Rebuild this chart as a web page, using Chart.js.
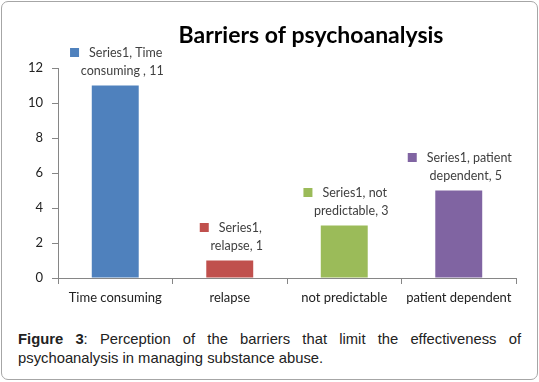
<!DOCTYPE html>
<html>
<head>
<meta charset="utf-8">
<script src="https://cdn.jsdelivr.net/npm/chart.js@4"></script>
<style>
  html, body { margin: 0; padding: 0; background: #fff; }
  #frame { position: absolute; left: 1px; top: 1px; width: 535px; height: 377px; border: 1px solid #a6a6a6; border-radius: 7px; box-sizing: content-box; }
  #wrap { position: absolute; left: 0; top: 0; width: 539px; height: 315px; }
  #caption { position: absolute; left: 18px; top: 330px; width: 503px; font-family: "Liberation Sans", Arial, sans-serif; font-size: 14.8px; line-height: 19px; color: #222; text-align: justify; text-align-last: left; }
</style>
</head>
<body>
<div id="frame"></div>
<div id="wrap"><canvas id="c"></canvas></div>
<div id="caption"><b>Figure 3</b>: Perception of the barriers that limit the effectiveness of psychoanalysis in managing substance abuse.</div>
<script>
const chartTitle = "Barriers of psychoanalysis";
const categories = ["Time consuming", "relapse", "not predictable", "patient dependent"];
const values = [11, 1, 3, 5];
const barColors = ["#4F81BD", "#C0504D", "#9BBB59", "#8064A2"];
const labelLine1 = ["Series1, Time", "Series1,", "Series1, not", "Series1, patient"];
const labelLine2 = ["consuming , 11", "relapse, 1", "predictable, 3", "dependent, 5"];
const yTicks = [0, 2, 4, 6, 8, 10, 12];

const labelFont = '12.5px Lato, "Open Sans", sans-serif';

const labelPlugin = {
  id: 'barLabels',
  afterDatasetsDraw(chart) {
    const ctx = chart.ctx;
    const meta = chart.getDatasetMeta(0);
    ctx.save();
    ctx.font = labelFont;
    ctx.fillStyle = '#404040';
    ctx.textBaseline = 'middle';
    meta.data.forEach((bar, i) => {
      const cx = bar.x;
      const top = bar.y;
      const y2 = top - 15;
      const y1 = y2 - 18;
      ctx.textAlign = 'center';
      ctx.fillText(labelLine2[i], cx + 7, y2);
      const w = ctx.measureText(labelLine1[i]).width;
      const key = 9, gap = 10;
      const total = key + gap + w;
      const start = cx + 1 - total / 2;
      ctx.fillStyle = barColors[i];
      ctx.fillRect(start, y1 - 4.5, key, key);
      ctx.fillStyle = '#404040';
      ctx.textAlign = 'left';
      ctx.fillText(labelLine1[i], start + key + gap, y1);
    });
    ctx.font = 'bold 23px Lato, "Open Sans", sans-serif';
    ctx.fillStyle = '#000';
    ctx.textAlign = 'center';
    ctx.fillText(chartTitle, 311, 36);
    ctx.restore();
  }
};

new Chart(document.getElementById('c'), {
  type: 'bar',
  data: {
    labels: categories,
    datasets: [{
      data: values,
      backgroundColor: barColors,
      borderWidth: 0,
      barPercentage: 0.41,
      categoryPercentage: 1.0
    }]
  },
  options: {
    responsive: true,
    maintainAspectRatio: false,
    animation: false,
    layout: { padding: { top: 68, right: 23, left: 0, bottom: 0 } },
    plugins: { legend: { display: false }, tooltip: { enabled: false }, title: { display: false } },
    scales: {
      x: {
        grid: { display: true, drawOnChartArea: false, offset: true, color: '#868686', tickLength: 6 },
        border: { color: '#868686' },
        ticks: { color: '#222', font: { family: 'Lato, "Open Sans", sans-serif', size: 13 }, padding: 6 },
        afterFit(scale) { scale.height = 37; }
      },
      y: {
        min: 0, max: 12,
        afterBuildTicks(scale) { scale.ticks = yTicks.map(v => ({ value: v })); },
        grid: { display: true, drawOnChartArea: false, color: '#868686', tickLength: 6 },
        border: { color: '#868686' },
        ticks: { color: '#222', font: { family: 'Lato, "Open Sans", sans-serif', size: 13 }, padding: 9 },
        afterFit(scale) { scale.width = 58; }
      }
    }
  },
  plugins: [labelPlugin]
});
</script>
</body>
</html>
